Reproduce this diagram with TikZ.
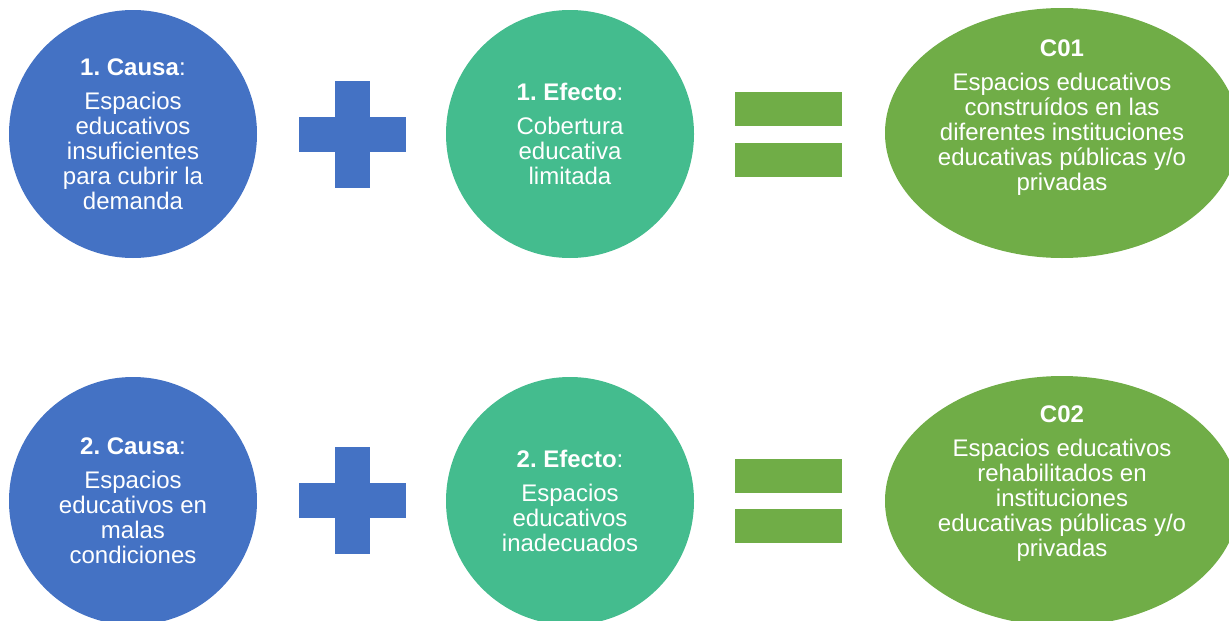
\documentclass[tikz,border=0pt]{standalone}
\usepackage{fontspec}
\setmainfont{Liberation Sans}
\usetikzlibrary{shapes.geometric}
\definecolor{causeblue}{HTML}{4472C4}
\definecolor{effectteal}{HTML}{44BC8E}
\definecolor{prodgreen}{HTML}{70AD47}
\frenchspacing

\begin{document}
\begin{tikzpicture}[
            x = 1pt, y = -1pt, % pixel units, y going down
            every node/.style = {text=white, align=center, font=\fontsize{24}{25}\selectfont},
            cause/.style = {shape=circle, fill=causeblue, minimum size=248pt, inner sep=0pt},
            effect/.style = {shape=circle, fill=effectteal, minimum size=248pt, inner sep=0pt},
            product/.style = {shape=ellipse, fill=prodgreen, minimum width=354pt, minimum height=250pt, inner sep=0pt},
            plusbar/.style = {fill=causeblue, minimum width=107pt, minimum height=35pt, inner sep=0pt},
            eqbar/.style = {fill=prodgreen, minimum width=107pt, minimum height=34pt, inner sep=0pt}
        ]
\path[use as bounding box, clip] (0,0) rectangle (1229,621);

% first row
\node[cause] (C1) at (133,134) {\textbf{1. Causa}:\\[9pt] Espacios\\educativos\\insuficientes\\para cubrir la\\demanda};
\node[plusbar] (plus1h) at (352,134.5) {};
\node[plusbar, rotate=90] (plus1v) at (352,134.5) {};
\node[effect] (E1) at (570,134) {\textbf{1. Efecto}:\\[9pt] Cobertura\\educativa\\limitada};
\node[eqbar] (eq1a) at (788.5,109) {};
\node[eqbar] (eq1b) at (788.5,160) {};
\node[product] (P1) at (1062,133) {};
\node (P1text) at ([yshift=15pt]P1.center) {\textbf{C01}\\[9pt] Espacios educativos\\construídos en las\\diferentes instituciones\\educativas públicas y/o\\privadas};

% second row
\node[cause] (C2) at (133,501) {\textbf{2. Causa}:\\[9pt] Espacios\\educativos en\\malas\\condiciones};
\node[plusbar] (plus2h) at (352,500) {};
\node[plusbar, rotate=90] (plus2v) at (352,500) {};
\node[effect] (E2) at (570,501) {\textbf{2. Efecto}:\\[9pt] Espacios\\educativos\\inadecuados};
\node[eqbar] (eq2a) at (788.5,476) {};
\node[eqbar] (eq2b) at (788.5,526) {};
\node[product] (P2) at (1062,501) {};
\node (P2text) at ([yshift=17pt]P2.center) {\textbf{C02}\\[9pt] Espacios educativos\\rehabilitados en\\instituciones\\educativas públicas y/o\\privadas};
\end{tikzpicture}
\end{document}
